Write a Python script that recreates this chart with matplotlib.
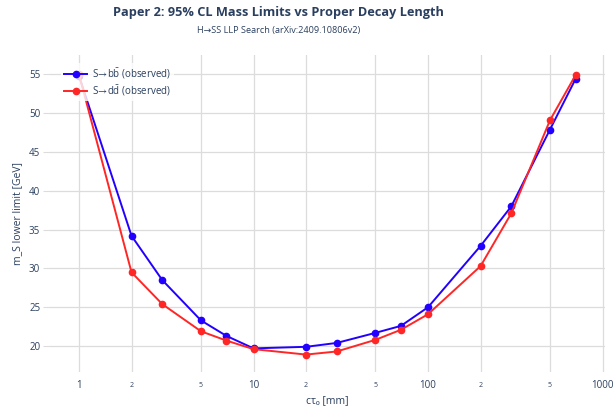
import matplotlib
matplotlib.use("Agg")
import matplotlib.pyplot as plt
from matplotlib.ticker import FixedLocator, FixedFormatter

# proper decay length points [mm]
ctau = [1, 2, 3, 5, 7, 10, 20, 30, 50, 70, 100, 200, 300, 500, 700]
# observed lower limits on m_S [GeV]
limit_bb = [54.8, 34.2, 28.5, 23.3, 21.3, 19.7, 19.9, 20.4, 21.7, 22.6, 25.0, 32.9, 38.0, 47.9, 54.4]
limit_dd = [55.0, 29.5, 25.4, 21.9, 20.7, 19.6, 18.9, 19.3, 20.8, 22.1, 24.1, 30.3, 37.1, 49.1, 54.9]

label_bb = r"S$\!\rightarrow\!$b$\bar{\mathrm{b}}$ (observed)"
label_dd = r"S$\!\rightarrow\!$d$\bar{\mathrm{d}}$ (observed)"

major_ticks = [1, 10, 100, 1000]
minor_ticks = [2, 5, 20, 50, 200, 500]
minor_labels = ["2", "5", "2", "5", "2", "5"]
y_ticks = [20, 25, 30, 35, 40, 45, 50, 55]

plt.rcParams['font.family'] = ['Open Sans', 'DejaVu Sans']
plt.rcParams['mathtext.fontset'] = 'custom'
plt.rcParams['mathtext.rm'] = 'Open Sans'
plt.rcParams['mathtext.fallback'] = 'stixsans'
text_col = '#2a3f5f'
grid_col = '#dcdcdc'

fig = plt.figure(figsize=(6.14, 4.12), dpi=100)
ax = fig.add_axes([0.0814, 0.097, 0.9036, 0.7695])

ax.plot(ctau, limit_bb, color='#2200ff', lw=1.4, marker='o', ms=4.5, label=label_bb, zorder=3)
ax.plot(ctau, limit_dd, color='#ff2626', lw=1.4, marker='o', ms=4.5, label=label_dd, zorder=4)

ax.set_xscale('log')
ax.set_xlim(0.682, 1030)
ax.set_ylim(16.65, 57.5)

ax.xaxis.set_major_locator(FixedLocator(major_ticks))
ax.xaxis.set_major_formatter(FixedFormatter([str(t) for t in major_ticks]))
ax.xaxis.set_minor_locator(FixedLocator(minor_ticks))
ax.xaxis.set_minor_formatter(FixedFormatter(minor_labels))
ax.set_yticks(y_ticks)

ax.tick_params(axis='x', which='major', length=0, pad=6, labelsize=7, labelcolor=text_col)
ax.tick_params(axis='x', which='minor', length=0, pad=7, labelsize=5, labelcolor=text_col)
ax.tick_params(axis='y', length=5, width=0.8, color=grid_col, pad=2, labelsize=7, labelcolor=text_col)

ax.grid(True, which='both', axis='x', color=grid_col, lw=0.9)
ax.grid(True, which='major', axis='y', color=grid_col, lw=0.9)
ax.set_axisbelow(True)
for s in ax.spines.values():
    s.set_visible(False)

ax.set_xlabel("c\u03c4\u2080 [mm]", fontsize=7.5, color=text_col, labelpad=3)
ax.set_ylabel("m_S lower limit [GeV]", fontsize=7.5, color=text_col, labelpad=4)

leg = ax.legend(loc='upper left', bbox_to_anchor=(0.012, 0.99), frameon=True, fontsize=7,
                handlelength=2.3, borderpad=0.3, labelspacing=0.2, handletextpad=0.5)
leg.get_frame().set_facecolor((1, 1, 1, 0.5))
leg.get_frame().set_edgecolor('none')
for t in leg.get_texts():
    t.set_color(text_col)

fig.text(0.454, 0.97, "Paper 2: 95% CL Mass Limits vs Proper Decay Length",
         ha='center', va='center', fontsize=9.2, fontweight='bold', color=text_col)
fig.text(0.454, 0.925, "H\u2192SS LLP Search (arXiv:2409.10806v2)",
         ha='center', va='center', fontsize=6.6, color=text_col)

fig.savefig("out.png", dpi=100)
